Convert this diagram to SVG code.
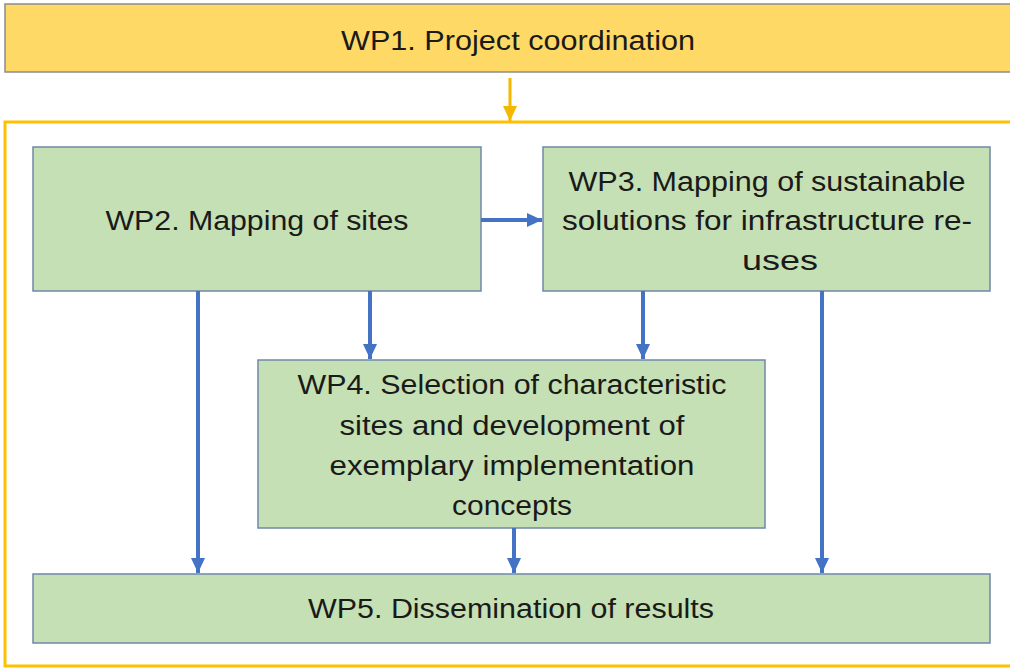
<svg xmlns="http://www.w3.org/2000/svg" width="1010" height="671" viewBox="0 0 1010 671">
<defs>
<style>
.t{font-family:"Liberation Sans",Arial,sans-serif;font-size:27px;fill:#1a1a1a;text-anchor:middle}
.g{fill:#C5E0B4;stroke:#7088A8;stroke-width:1.5}
.b{stroke:#4472C4;stroke-width:4;fill:none;marker-end:url(#ab)}
</style>
<marker id="ab" markerWidth="18" markerHeight="18" refX="15" refY="8" orient="auto" markerUnits="userSpaceOnUse"><path d="M0,1 L15,8 L0,15 Z" fill="#4472C4"/></marker>
<marker id="ao" markerWidth="18" markerHeight="18" refX="15" refY="8" orient="auto" markerUnits="userSpaceOnUse"><path d="M0,1 L15,8 L0,15 Z" fill="#F5B800"/></marker>
</defs>
<rect width="1010" height="671" fill="#ffffff"/>
<g id="container"><rect x="5" y="122" width="1010" height="544" fill="none" stroke="#FFC000" stroke-width="3"/></g>
<g id="wp1"><rect x="5" y="4" width="1010" height="68" fill="#FFD966" stroke="#8c8c8c" stroke-width="1.5"/>
<text class="t" x="518" y="50" textLength="354" lengthAdjust="spacingAndGlyphs">WP1. Project coordination</text></g>
<g id="wp2"><rect class="g" x="33" y="147" width="448" height="144"/>
<text class="t" x="257" y="230" textLength="303" lengthAdjust="spacingAndGlyphs">WP2. Mapping of sites</text></g>
<g id="wp3"><rect class="g" x="543" y="147" width="447" height="144"/>
<text class="t" x="767" y="191" textLength="397" lengthAdjust="spacingAndGlyphs">WP3. Mapping of sustainable</text>
<text class="t" x="767" y="230" textLength="410" lengthAdjust="spacingAndGlyphs">solutions for infrastructure re-</text>
<text class="t" x="780" y="270" textLength="76" lengthAdjust="spacingAndGlyphs">uses</text></g>
<g id="wp4"><rect class="g" x="258" y="360" width="507" height="168"/>
<text class="t" x="512" y="394" textLength="429" lengthAdjust="spacingAndGlyphs">WP4. Selection of characteristic</text>
<text class="t" x="512" y="435" textLength="345" lengthAdjust="spacingAndGlyphs">sites and development of</text>
<text class="t" x="512" y="475" textLength="365" lengthAdjust="spacingAndGlyphs">exemplary implementation</text>
<text class="t" x="512" y="515" textLength="120" lengthAdjust="spacingAndGlyphs">concepts</text></g>
<g id="wp5"><rect class="g" x="33" y="574" width="957" height="69"/>
<text class="t" x="511" y="618" textLength="406" lengthAdjust="spacingAndGlyphs">WP5. Dissemination of results</text></g>
<g id="connectors">
<line x1="510" y1="78" x2="510" y2="121" stroke="#F5B800" stroke-width="3" marker-end="url(#ao)"/>
<line class="b" x1="481" y1="220" x2="542" y2="220"/>
<line class="b" x1="198" y1="291" x2="198" y2="573"/>
<line class="b" x1="370" y1="291" x2="370" y2="359"/>
<line class="b" x1="643" y1="291" x2="643" y2="359"/>
<line class="b" x1="822" y1="291" x2="822" y2="573"/>
<line class="b" x1="514" y1="528" x2="514" y2="573"/>
</g>
</svg>
